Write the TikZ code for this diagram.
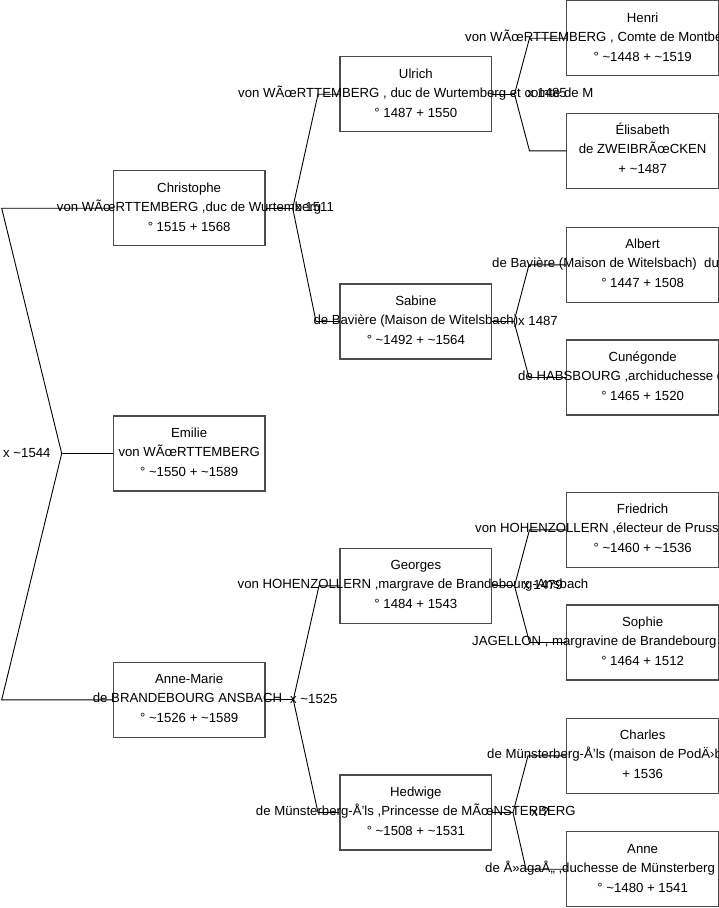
\documentclass[tikz,border=0pt]{standalone}
\usepackage{fontspec}
\setmainfont{Liberation Sans}
\newcommand\famperson[6]{%
  \node[pbox] (#1) at ({#2+75.85},{#3+37.5}) {};
  \node[ptext] (#1-n) at ({#2+75.85},{#3+21.3}) {#4};
  \node[ptext] (#1-d) at ({#2+75.85},{#3+60.5}) {#6};
  #5}
\begin{document}
\begin{tikzpicture}[x=1pt,y=-1pt,
  pbox/.style={draw=black!70,line width=1.1pt,minimum width=151.7pt,minimum height=75pt,inner sep=0pt},
  ptext/.style={font=\fontsize{13.2}{15}\selectfont,inner sep=0pt,anchor=base},
  ptextw/.style={ptext,anchor=base west},
  link/.style={draw=black,line width=0.9pt},
  mlabel/.style={font=\fontsize{13.2}{15}\selectfont,inner sep=0pt,anchor=base west}]
\useasboundingbox (0,0) rectangle (719,908);
\clip (0,0) rectangle (719,908);
\fill[white] (0,0) rectangle (719,908);

% left column
\famperson{chr}{113.3}{170.7}{Christophe}{\node[ptext] (chr-t) at (189.15,211.2) {von WÃœRTTEMBERG ,duc de Wurtemberg};}{° 1515 + 1568}
\famperson{emi}{113.3}{416}{Emilie}{\node[ptext] (emi-t) at (189.15,456.5) {von WÃœRTTEMBERG};}{° \textasciitilde1550 + \textasciitilde1589}
\famperson{ann}{113.3}{662.3}{Anne-Marie}{\node[ptext] (ann-t) at (187.5,702.8) {de BRANDEBOURG ANSBACH};}{° \textasciitilde1526 + \textasciitilde1589}

% middle column
\famperson{ulr}{340}{56.7}{Ulrich}{\node[ptext] (ulr-t) at (415.85,97.2) {von WÃœRTTEMBERG , duc de Wurtemberg et comte de M};}{° 1487 + 1550}
\famperson{sab}{340}{284}{Sabine}{\node[ptext] (sab-t) at (415.85,324.5) {de Bavière (Maison de Witelsbach)};}{° \textasciitilde1492 + \textasciitilde1564}
\famperson{geo}{340}{548.3}{Georges}{\node[ptext] (geo-t) at (413,588.8) {von HOHENZOLLERN ,margrave de Brandebourg-Ansbach};}{° 1484 + 1543}
\famperson{hed}{340}{775}{Hedwige}{\node[ptext] (hed-t) at (415.85,815.5) {de Münsterberg-Å’ls ,Princesse de MÃœNSTERBERG};}{° \textasciitilde1508 + \textasciitilde1531}

% right column
\famperson{hen}{566.8}{0.7}{Henri}{\node[ptextw] (hen-t) at (465,41.2) {von WÃœRTTEMBERG , Comte de Montbéliard};}{° \textasciitilde1448 + \textasciitilde1519}
\famperson{eli}{566.8}{113.3}{Élisabeth}{\node[ptext] (eli-t) at (642.65,153.8) {de ZWEIBRÃœCKEN};}{+ \textasciitilde1487}
\famperson{alb}{566.8}{227.3}{Albert}{\node[ptextw] (alb-t) at (492,267.8) {de Bavière (Maison de Witelsbach)\ \ duc de Bavière};}{° 1447 + 1508}
\famperson{cun}{566.8}{340}{Cunégonde}{\node[ptextw] (cun-t) at (518,380.5) {de HABSBOURG ,archiduchesse d'Autriche};}{° 1465 + 1520}
\famperson{fri}{566.8}{492.3}{Friedrich}{\node[ptextw] (fri-t) at (475,532.8) {von HOHENZOLLERN ,électeur de Prusse};}{° \textasciitilde1460 + \textasciitilde1536}
\famperson{sop}{566.8}{605}{Sophie}{\node[ptextw] (sop-t) at (472,645.5) {JAGELLON , margravine de Brandebourg};}{° 1464 + 1512}
\famperson{cha}{566.8}{718.3}{Charles}{\node[ptextw] (cha-t) at (487,758.8) {de Münsterberg-Å’ls (maison de PodÄ›brady)};}{+ 1536}
\famperson{ane}{566.8}{831.7}{Anne}{\node[ptextw] (ane-t) at (485,872.2) {de Å»agaÅ„ ,duchesse de Münsterberg};}{° \textasciitilde1480 + 1541}

% marriage labels
\node[mlabel] (m0) at (3,457) {x \textasciitilde1544};
\node[mlabel] (m1) at (295,211.7) {x 1511};
\node[mlabel] (m2) at (290,703.3) {x \textasciitilde1525};
\node[mlabel] (m3) at (527,97.7) {x 1485};
\node[mlabel] (m4) at (518,325) {x 1487};
\node[mlabel] (m5) at (523,589.3) {x 1479};
\node[mlabel] (m6) at (531,816) {x ?};

% connectors: first generation
\coordinate (L1) at (1.7,208.2);
\coordinate (LV) at (61.7,453.5);
\coordinate (L2) at (1.7,699.8);
\draw[link] (chr.west) -- (L1) -- (LV) -- (L2) -- (ann.west);
\draw[link] (LV) -- (emi.west);

% second generation
\coordinate (CV) at (292.7,208.2);
\coordinate (CU) at (318,94.2);
\coordinate (CS) at (316,321.5);
\draw[link] (chr.east) -- (CV);
\draw[link] (ulr.west) -- (CU) -- (CV) -- (CS) -- (sab.west);
\coordinate (AV) at (293.3,699.8);
\coordinate (AG) at (319,585.8);
\coordinate (AH) at (318,812.5);
\draw[link] (ann.east) -- (AV);
\draw[link] (geo.west) -- (AG) -- (AV) -- (AH) -- (hed.west);

% third generation
\coordinate (UV) at (514.5,94.2);
\coordinate (UH) at (529.5,38.2);
\coordinate (UE) at (529.5,150.8);
\draw[link] (ulr.east) -- (UV);
\draw[link] (hen.west) -- (UH) -- (UV) -- (UE) -- (eli.west);
\coordinate (SV) at (514,321.5);
\coordinate (SA) at (529,264.8);
\coordinate (SC) at (529,377.5);
\draw[link] (sab.east) -- (SV);
\draw[link] (alb.west) -- (SA) -- (SV) -- (SC) -- (cun.west);
\coordinate (GV) at (514.5,585.8);
\coordinate (GF) at (529.5,529.8);
\coordinate (GS) at (529.5,642.5);
\draw[link] (geo.east) -- (GV);
\draw[link] (fri.west) -- (GF) -- (GV) -- (GS) -- (sop.west);
\coordinate (HV) at (513,812.5);
\coordinate (HC) at (528,755.8);
\coordinate (HA) at (526,869.2);
\draw[link] (hed.east) -- (HV);
\draw[link] (cha.west) -- (HC) -- (HV) -- (HA) -- (ane.west);
\end{tikzpicture}
\end{document}
